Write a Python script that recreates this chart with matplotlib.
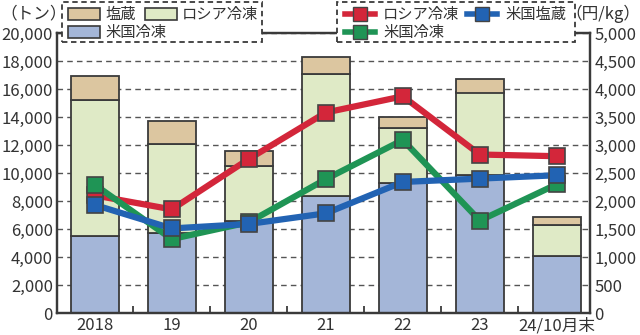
import numpy as np
import matplotlib.pyplot as plt
from matplotlib.patches import Rectangle
from matplotlib.lines import Line2D

plt.rcParams['font.family'] = ['Noto Sans CJK JP', 'DejaVu Sans']

# データ (トン)
years = ['2018', '19', '20', '21', '22', '23', '24/10月末']
us_frozen = [5500, 5700, 6600, 8350, 9300, 9850, 4070]
russia_frozen = [9700, 6350, 3900, 8700, 3900, 5900, 2220]
salted = [1700, 1650, 1100, 1250, 830, 1000, 540]

# 価格 (円/kg)
price_russia = [2100, 1850, 2750, 3580, 3870, 2830, 2800]
price_us_salted = [1930, 1510, 1590, 1780, 2340, 2400, 2460]
price_us_frozen = [2290, 1320, 1620, 2390, 3090, 1650, 2300]

C_SALT = '#dcc6a0'
C_RUS = '#dfeac6'
C_US = '#a4b6d8'
L_RED = '#d3263a'
L_BLUE = '#2263b3'
L_GREEN = '#1f9455'
EDGE = '#3a3a3a'
MEDGE = '#444444'
TXT = '#333333'

W, H = 640, 335
fig = plt.figure(figsize=(6.4, 3.35), dpi=100)
ax = fig.add_axes([57 / W, 1 - 313 / H, 533 / W, 280 / H])
x = np.arange(len(years))
w = 0.62

b1 = np.array(us_frozen)
b2 = b1 + np.array(russia_frozen)
ax.bar(x, us_frozen, w, color=C_US, edgecolor=EDGE, linewidth=1.3, zorder=2)
ax.bar(x, russia_frozen, w, bottom=b1, color=C_RUS, edgecolor=EDGE, linewidth=1.3, zorder=2)
ax.bar(x, salted, w, bottom=b2, color=C_SALT, edgecolor=EDGE, linewidth=1.3, zorder=2)

ax.set_xlim(-0.49, 6.43)
ax.set_ylim(0, 20000)
ax.set_yticks(range(0, 20001, 2000))
ax.set_yticklabels([f'{v:,}' for v in range(0, 20001, 2000)])
ax.grid(axis='y', linestyle=(0, (4, 3)), color='#555555', linewidth=1)
ax.set_axisbelow(True)
ax.set_xticks(x)
ax.set_xticklabels(years)
ax.set_xticks(x[:-1] + 0.5, minor=True)
ax.tick_params(axis='x', which='major', length=0, labelsize=12, colors=TXT, pad=3)
ax.tick_params(axis='x', which='minor', direction='in', length=5, width=1.3, color=EDGE)
ax.tick_params(axis='y', length=0, labelsize=12, colors=TXT, pad=3)
for s in ax.spines.values():
    s.set_color(EDGE)
    s.set_linewidth(1.6)

ax2 = ax.twinx()
ax2.set_ylim(0, 5000)
ax2.set_yticks(range(0, 5001, 500))
ax2.set_yticklabels([f'{v:,}' for v in range(0, 5001, 500)])
ax2.tick_params(axis='y', length=0, labelsize=12, colors=TXT, pad=3)
for s in ax2.spines.values():
    s.set_color(EDGE)
    s.set_linewidth(1.6)

for vals, col in [(price_russia, L_RED), (price_us_frozen, L_GREEN), (price_us_salted, L_BLUE)]:
    ax2.plot(x, vals, color=col, linewidth=4.5, marker='s', markersize=12,
             markeredgecolor=MEDGE, markeredgewidth=1.2, zorder=3)

fig.text(0.0, 1 - 14 / H, '（トン）', fontsize=12, color=TXT, va='center', ha='left')
fig.text(1.0, 1 - 14 / H, '（円/kg）', fontsize=12, color=TXT, va='center', ha='right')


# 凡例 (ピクセル座標で配置)
def fx(px):
    return px / W


def fy(py):
    return 1 - py / H


def box(x0, x1):
    fig.add_artist(Rectangle((fx(x0), fy(42)), fx(x1) - fx(x0), fy(2) - fy(42),
                             transform=fig.transFigure, facecolor='white', edgecolor=EDGE,
                             linewidth=1.3, linestyle=(0, (3, 2)), zorder=5))


def patch_item(x0, yc, col, lab):
    fig.add_artist(Rectangle((fx(x0), fy(yc + 6)), fx(32), 12 / H, transform=fig.transFigure,
                             facecolor=col, edgecolor=EDGE, linewidth=1.2, zorder=6))
    fig.text(fx(x0 + 37), fy(yc), lab, fontsize=11, color=TXT, va='center', ha='left', zorder=6)


def line_item(x0, yc, col, lab):
    fig.add_artist(Line2D([fx(x0), fx(x0 + 30)], [fy(yc), fy(yc)], transform=fig.transFigure,
                          color=col, linewidth=4, zorder=6))
    fig.add_artist(Line2D([fx(x0 + 15)], [fy(yc)], transform=fig.transFigure, marker='s',
                          markersize=10, color=col, markeredgecolor=MEDGE, markeredgewidth=1,
                          zorder=7))
    fig.text(fx(x0 + 38), fy(yc), lab, fontsize=11, color=TXT, va='center', ha='left', zorder=6)


box(62, 262)
patch_item(68, 14, C_SALT, '塩蔵')
patch_item(145, 14, C_RUS, 'ロシア冷凍')
patch_item(68, 32, C_US, '米国冷凍')

box(337, 575)
line_item(345, 14, L_RED, 'ロシア冷凍')
line_item(467, 14, L_BLUE, '米国塩蔵')
line_item(345, 32, L_GREEN, '米国冷凍')

fig.savefig('out.png', dpi=100)
